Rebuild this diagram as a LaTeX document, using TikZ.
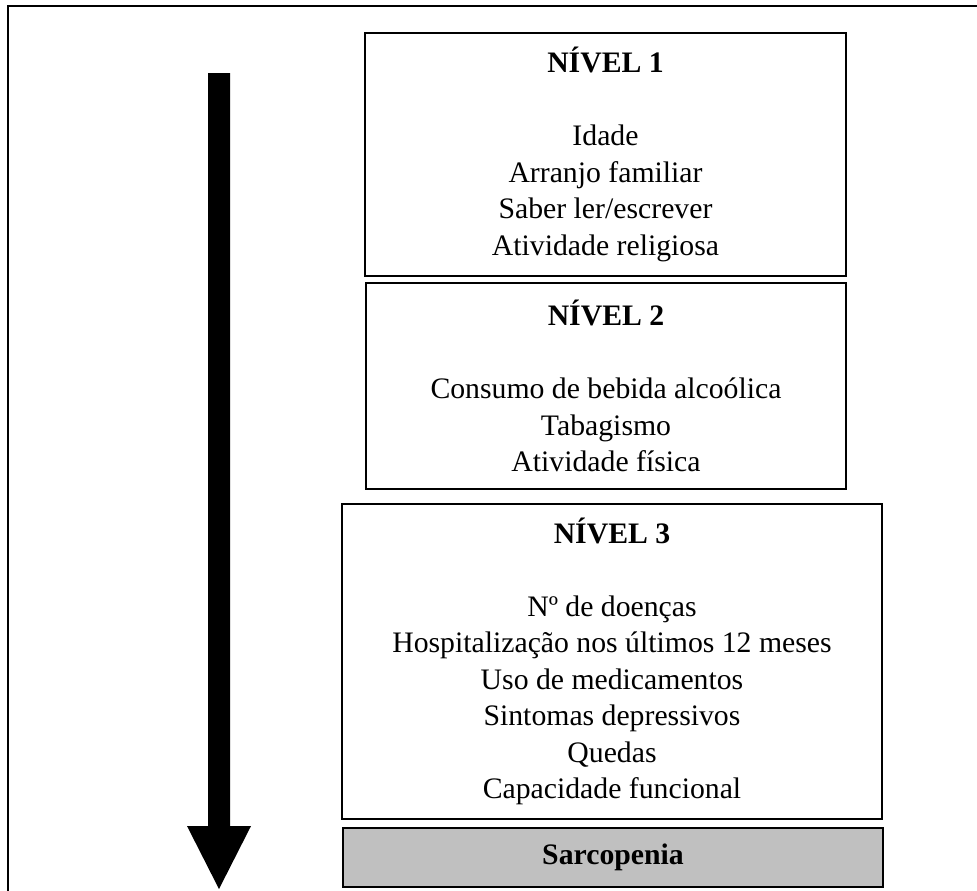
\documentclass[tikz,border=0pt]{standalone}
\usepackage{fontspec}
\setmainfont{Liberation Serif}
\usepackage{xcolor}
\usepackage{tikz}
\definecolor{sarcgray}{RGB}{192,192,192}

\begin{document}
\begin{tikzpicture}[x=0.75pt, y=-0.75pt,
  levelblock/.style={rectangle, draw, line width=1.5pt, align=center, inner sep=0pt, font=\fontsize{22.3pt}{27.4pt}\selectfont},
  outcomeblock/.style={levelblock, fill=sarcgray, font=\fontsize{22.3pt}{27.4pt}\selectfont\bfseries}]
  \useasboundingbox (0,0) rectangle (977,890);
  % Frame
  \draw[line width=1.5pt] (8,6) rectangle (1000,920);
  % Level 1
  \node[levelblock, minimum width=360.75pt, minimum height=182.25pt] (nivel1) at (605.5,154.5)
    {\textbf{NÍVEL 1}\\[27.4pt]Idade\\Arranjo familiar\\Saber ler/escrever\\Atividade religiosa};
  % Level 2
  \node[levelblock, minimum width=360pt, minimum height=154.5pt] (nivel2) at (606,386)
    {\textbf{NÍVEL 2}\\[27.4pt]Consumo de bebida alcoólica\\Tabagismo\\Atividade física};
  % Level 3
  \node[levelblock, minimum width=405pt, minimum height=236.25pt] (nivel3) at (612,661.5)
    {\textbf{NÍVEL 3}\\[27.4pt]Nº de doenças\\Hospitalização nos últimos 12 meses\\Uso de medicamentos\\Sintomas depressivos\\Quedas\\Capacidade funcional};
  % Outcome
  \node[outcomeblock, minimum width=405pt, minimum height=44.25pt] (sarcopenia) at (613,857.5) {Sarcopenia};
  % Big arrow
  \fill (208,73) -- (230,73) -- (230,826) -- (251,826) -- (219,889) -- (187,826) -- (208,826) -- cycle;
\end{tikzpicture}
\end{document}
